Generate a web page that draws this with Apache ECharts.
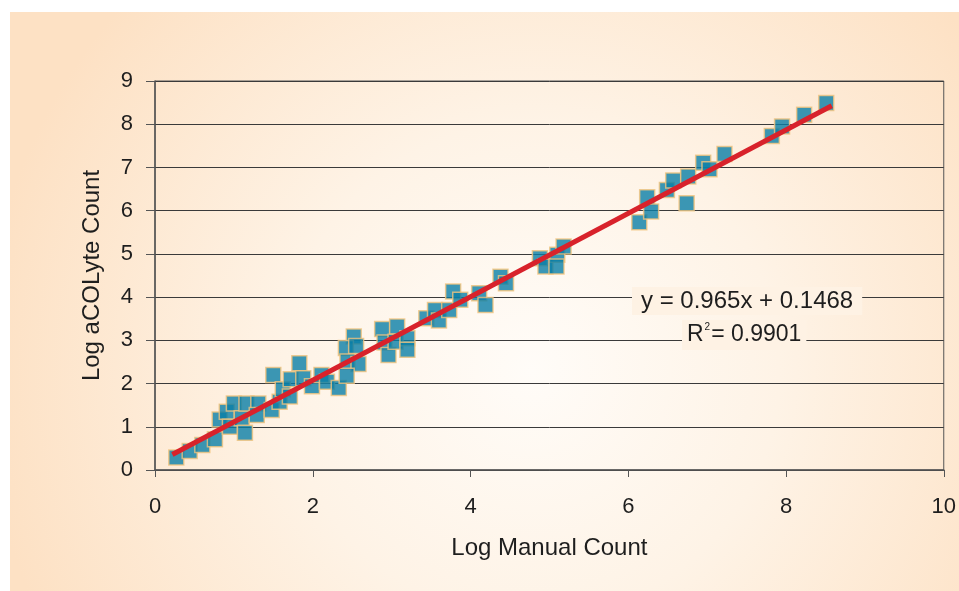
<!DOCTYPE html>
<html>
<head>
<meta charset="utf-8">
<script src="https://cdn.jsdelivr.net/npm/echarts@6/dist/echarts.min.js"></script>
<style>
html,body{margin:0;padding:0;background:#ffffff;}
#chart{width:959px;height:591px;}
</style>
</head>
<body>
<div id="chart"></div>
<script>
// Data
const manualCount = [0.27,0.44,0.60,0.76,0.82,0.91,1.00,0.95,1.10,1.16,1.14,1.31,1.29,1.48,1.58,1.50,1.62,1.72,1.71,1.83,1.88,1.99,2.11,2.18,2.33,
  2.52,2.42,2.55,2.44,2.58,2.43,2.88,2.91,2.96,3.07,3.05,3.20,3.20,3.44,3.55,3.60,3.73,3.78,3.87,
  4.11,4.19,4.38,4.45,4.88,4.95,5.10,5.09,5.18,
  6.14,6.24,6.29,6.49,6.57,6.74,6.76,6.95,7.03,7.22,7.82,7.95,8.23,8.51];
const acolyteCount = [0.29,0.44,0.58,0.71,1.17,1.35,1.54,1.00,1.20,1.54,0.86,1.54,1.27,1.39,1.58,2.20,1.87,2.10,1.70,2.47,2.12,1.94,2.20,2.04,1.90,
  3.09,2.82,2.87,2.51,2.45,2.18,3.26,2.95,2.66,3.32,2.97,3.05,2.78,3.51,3.70,3.46,3.70,4.13,3.94,
  4.09,3.82,4.47,4.32,4.90,4.71,4.98,4.71,5.17,
  5.73,6.31,5.98,6.48,6.70,6.17,6.79,7.11,6.96,7.31,7.73,7.95,8.22,8.49];
const trendSlope = 0.965;
const trendIntercept = 0.1468;
const trendXRange = [0.22, 8.58];
const xTicks = [0, 2, 4, 6, 8, 10];
const yTicks = [0, 1, 2, 3, 4, 5, 6, 7, 8, 9];
const equationText = 'y = 0.965x + 0.1468';
const r2Value = '0.9901';

const points = manualCount.map((x, i) => [x, acolyteCount[i]]);
const trendData = trendXRange.map(x => [x, trendSlope * x + trendIntercept]);

const chart = echarts.init(document.getElementById('chart'), null, {renderer: 'canvas'});
const font = 'Liberation Sans, Arial, Helvetica, sans-serif';
chart.setOption({
  animation: false,
  backgroundColor: '#ffffff',
  textStyle: {fontFamily: font},
  graphic: [
    {
      type: 'rect', z: -10, silent: true,
      shape: {x: 10, y: 12, width: 949, height: 579},
      style: {
        fill: {
          type: 'radial', x: 0.55, y: 0.62, r: 0.95,
          colorStops: [
            {offset: 0, color: '#fffcf8'},
            {offset: 0.45, color: '#fef3e6'},
            {offset: 1, color: '#fde1c4'}
          ]
        }
      }
    },
    {
      type: 'text', z: 100, left: 632, top: 287,
      style: {
        text: equationText,
        font: '24px ' + font,
        fill: '#1e1e1e',
        backgroundColor: '#fef2e4',
        padding: [2, 9, 2, 9]
      }
    },
    {
      type: 'text', z: 100, left: 682, top: 320,
      style: {
        text: '{r|R}{s|2}{r|= ' + r2Value + '}',
        fill: '#1e1e1e',
        backgroundColor: '#fef2e4',
        padding: [2, 5, 2, 5],
        rich: {
          r: {font: '23px ' + font, fill: '#1e1e1e', lineHeight: 26},
          s: {font: '10px ' + font, fill: '#1e1e1e', verticalAlign: 'top', lineHeight: 26, padding: [0, 1, 12, 1]}
        }
      }
    }
  ],
  grid: {
    left: 155, right: 15, top: 81, bottom: 121,
    show: true, borderColor: '#555', borderWidth: 1, backgroundColor: 'transparent'
  },
  xAxis: {
    type: 'value', min: 0, max: 10, interval: 2,
    name: 'Log Manual Count', nameLocation: 'middle', nameGap: 66,
    nameTextStyle: {fontSize: 24, color: '#1e1e1e', fontFamily: font},
    axisLine: {show: true, onZero: false, lineStyle: {color: '#555', width: 1.5}},
    axisTick: {show: true, inside: false, length: 7, lineStyle: {color: '#555'}},
    axisLabel: {fontSize: 22, color: '#1e1e1e', margin: 26, fontFamily: font,
      formatter: v => xTicks.includes(v) ? String(v) : ''},
    splitLine: {show: false}
  },
  yAxis: {
    type: 'value', min: 0, max: 9, interval: 1,
    name: 'Log aCOLyte Count', nameLocation: 'middle', nameGap: 51,
    nameTextStyle: {fontSize: 24, color: '#1e1e1e', fontFamily: font},
    axisLine: {show: true, lineStyle: {color: '#555', width: 1.5}},
    axisTick: {show: true, inside: false, length: 9, lineStyle: {color: '#555'}},
    axisLabel: {fontSize: 22, color: '#1e1e1e', margin: 22, fontFamily: font,
      formatter: v => yTicks.includes(v) ? String(v) : ''},
    splitLine: {show: true, lineStyle: {color: '#3a3a3a', width: 1}}
  },
  series: [
    {
      type: 'scatter', data: points, symbol: 'rect', symbolSize: 15, z: 2,
      itemStyle: {color: '#0a7ea6', borderColor: '#f3c47e', borderWidth: 1.5}
    },
    {
      type: 'line', data: trendData, symbol: 'none', z: 3,
      lineStyle: {color: '#d8222b', width: 5}
    }
  ]
});
</script>
</body>
</html>
